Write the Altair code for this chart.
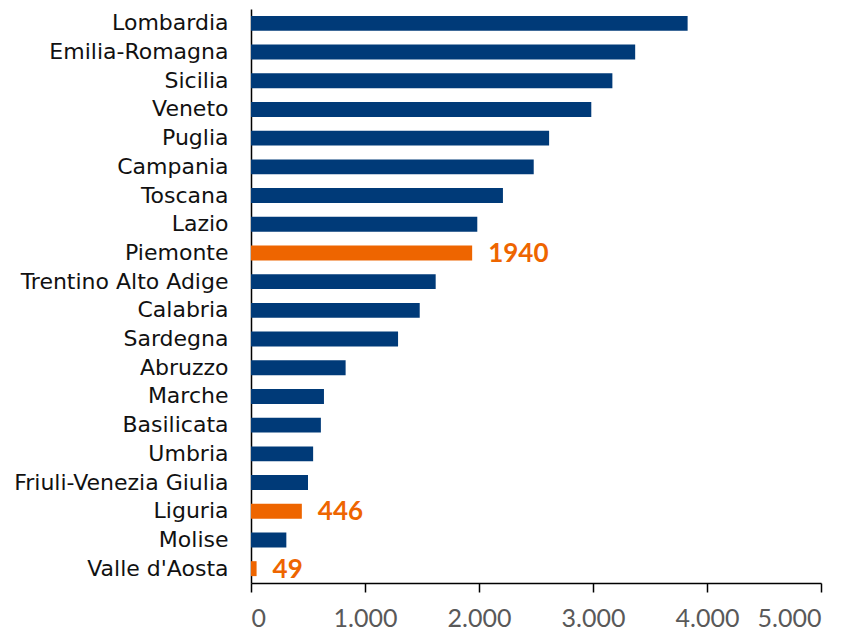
import altair as alt
import pandas as pd

regions = ["Lombardia", "Emilia-Romagna", "Sicilia", "Veneto", "Puglia", "Campania",
           "Toscana", "Lazio", "Piemonte", "Trentino Alto Adige", "Calabria", "Sardegna",
           "Abruzzo", "Marche", "Basilicata", "Umbria", "Friuli-Venezia Giulia", "Liguria",
           "Molise", "Valle d'Aosta"]
values = [3830, 3370, 3170, 2985, 2615, 2480, 2210, 1985, 1940, 1620, 1480, 1290,
          830, 640, 613, 545, 500, 446, 310, 49]
highlighted = ["Piemonte", "Liguria", "Valle d'Aosta"]

df = pd.DataFrame({"region": regions, "value": values})
df["hl"] = df["region"].isin(highlighted)

NAVY = "#003A78"
ORANGE = "#EE6500"

y_enc = alt.Y("region:N", sort=regions, title=None,
              scale=alt.Scale(paddingInner=0.48, paddingOuter=0.24),
              axis=alt.Axis(domain=True, domainColor="#000000", domainWidth=1.5,
                            ticks=False, labelPadding=23, labelFont="DejaVu Sans",
                            labelFontSize=22, labelColor="#111111", labelLimit=300))

x_enc = alt.X("value:Q", title=None,
              scale=alt.Scale(domain=[0, 5000], nice=False),
              axis=alt.Axis(values=[0, 1000, 2000, 3000, 4000, 5000],
                            labelExpr="replace(format(datum.value, ',d'), ',', '.')",
                            domainColor="#000000", domainWidth=1.5,
                            tickColor="#000000", tickWidth=1.5, tickSize=9,
                            labelPadding=14, labelFont="Lato", labelFontSize=25,
                            labelColor="#595959", grid=False))

bars = alt.Chart(df).mark_bar().encode(
    x=x_enc,
    y=y_enc,
    color=alt.Color("hl:N", scale=alt.Scale(domain=[False, True], range=[NAVY, ORANGE]),
                    legend=None),
)

labels = alt.Chart(df).transform_filter(alt.datum.hl).mark_text(
    align="left", baseline="middle", dx=16, dy=1, font="Lato", fontWeight="bold",
    fontSize=26, color=ORANGE
).encode(
    x="value:Q",
    y=alt.Y("region:N", sort=regions),
    text=alt.Text("value:Q", format="d"),
)

chart = (bars + labels).properties(
    width=570, height=574,
    autosize=alt.AutoSizeParams(type="none"),
    padding={"left": 243, "top": 1, "right": 30, "bottom": 50},
).configure_view(stroke=None)

chart.save("out.html", embed_options={"renderer": "svg", "actions": False})
